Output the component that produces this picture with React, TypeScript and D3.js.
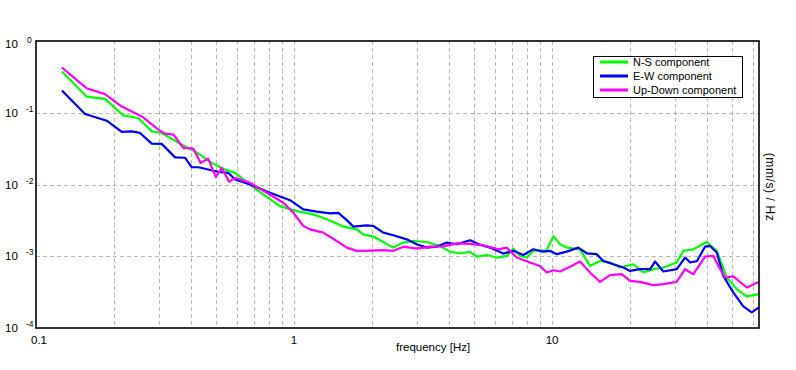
import React, { useRef, useEffect } from "react";
import * as d3 from "d3";

// spectra: [frequency Hz, amplitude (mm/s)/Hz]
const nsComponent: [number, number][] = [
  [0.126, 0.375], [0.157, 0.168], [0.185, 0.156], [0.218, 0.0917], [0.249, 0.0844],
  [0.281, 0.055], [0.307, 0.0523], [0.367, 0.0359], [0.413, 0.029], [0.48, 0.02],
  [0.54, 0.0162], [0.591, 0.01454], [0.675, 0.01], [0.76, 0.00726], [0.883, 0.005],
  [1.024, 0.00426], [1.188, 0.00383], [1.339, 0.00327], [1.553, 0.00259], [1.75, 0.00237],
  [1.856, 0.00202], [2.03, 0.00188], [2.218, 0.00158], [2.426, 0.00132], [2.653, 0.00155],
  [2.9, 0.00163], [3.268, 0.00158], [3.68, 0.00139], [4.025, 0.00115], [4.4, 0.0011],
  [4.81, 0.00115], [5.11, 0.00099], [5.58, 0.00104], [6.1, 0.000959], [6.675, 0.00101],
  [7.08, 0.00128], [7.52, 0.00101], [7.98, 0.000959], [8.46, 0.00119], [9.54, 0.00121],
  [10.12, 0.00191], [10.74, 0.00147], [11.4, 0.00132], [12.84, 0.00125], [14.03, 0.000733],
  [15.35, 0.000861], [16.78, 0.000818], [18.35, 0.000697], [20.66, 0.000774], [22.59, 0.000594],
  [24.7, 0.00066], [27.0, 0.000697], [30.43, 0.000818], [32.28, 0.00119], [35.3, 0.00125],
  [39.78, 0.00158], [43.5, 0.00119], [47.55, 0.000506], [52.0, 0.000348], [56.85, 0.000276],
  [63.4, 0.000297],
];

const ewComponent: [number, number][] = [
  [0.126, 0.204], [0.155, 0.0959], [0.188, 0.0774], [0.215, 0.054], [0.235, 0.055],
  [0.253, 0.0523], [0.281, 0.0371], [0.307, 0.0368], [0.346, 0.0239], [0.378, 0.0236],
  [0.401, 0.0174], [0.426, 0.0174], [0.465, 0.0162], [0.509, 0.015], [0.556, 0.01454],
  [0.591, 0.01173], [0.675, 0.01], [0.807, 0.00767], [0.965, 0.00605], [1.087, 0.0045],
  [1.225, 0.00418], [1.379, 0.00396], [1.485, 0.00402], [1.601, 0.00319], [1.698, 0.00259],
  [1.913, 0.0027], [2.03, 0.00264], [2.218, 0.00213], [2.426, 0.00196], [2.735, 0.00172],
  [2.99, 0.00147], [3.268, 0.00132], [3.573, 0.00136], [3.907, 0.00155], [4.272, 0.00147],
  [4.81, 0.00167], [5.26, 0.00145], [5.75, 0.00132], [6.47, 0.00109], [7.08, 0.00119],
  [7.74, 0.00104], [8.46, 0.00125], [9.25, 0.00116], [9.82, 0.00119], [10.43, 0.00107],
  [11.4, 0.00116], [12.64, 0.00132], [13.63, 0.0011], [14.9, 0.00107], [15.8, 0.000861],
  [17.29, 0.000774], [18.9, 0.000697], [20.06, 0.000625], [21.93, 0.00066], [23.99, 0.00066],
  [25.07, 0.000844], [27.0, 0.000613], [30.43, 0.00066], [32.78, 0.000959], [34.28, 0.000818],
  [36.4, 0.000853], [39.17, 0.00136], [40.97, 0.00139], [43.5, 0.00113], [46.1, 0.000533],
  [50.4, 0.000313], [55.1, 0.0002], [59.4, 0.000165], [63.4, 0.000194],
];

const udComponent: [number, number][] = [
  [0.126, 0.426], [0.157, 0.22], [0.185, 0.182], [0.215, 0.122], [0.257, 0.0889],
  [0.298, 0.0581], [0.316, 0.0511], [0.341, 0.0495], [0.372, 0.0323], [0.407, 0.0316],
  [0.435, 0.02], [0.465, 0.023], [0.498, 0.0126], [0.524, 0.0171], [0.56, 0.0109],
  [0.591, 0.0124], [0.675, 0.01056], [0.784, 0.00767], [0.909, 0.00557], [0.994, 0.00404],
  [1.087, 0.00264], [1.153, 0.00237], [1.299, 0.00213], [1.464, 0.00163], [1.601, 0.00132],
  [1.75, 0.00119], [1.97, 0.0012], [2.218, 0.00122], [2.426, 0.00119], [2.653, 0.00136],
  [2.99, 0.00128], [3.366, 0.00136], [3.791, 0.00137], [4.272, 0.00151], [4.81, 0.00149],
  [5.416, 0.00142], [6.19, 0.00125], [6.675, 0.00132], [7.3, 0.000959], [8.215, 0.000818],
  [8.985, 0.000733], [9.54, 0.000594], [10.12, 0.000639], [10.74, 0.000613], [11.74, 0.000715],
  [12.84, 0.000847], [14.03, 0.000594], [15.35, 0.00044], [16.78, 0.000545], [18.62, 0.000562],
  [20.06, 0.000454], [21.93, 0.00044], [24.7, 0.000396], [27.0, 0.000409], [30.43, 0.00044],
  [32.78, 0.00066], [35.3, 0.000562], [39.17, 0.00099], [42.2, 0.00101], [44.1, 0.000733],
  [46.8, 0.000506], [50.4, 0.000523], [56.85, 0.000367], [63.4, 0.00044],
];

const seriesNames = ["N-S component", "E-W component", "Up-Down component"];
const seriesColors = ["#00ff00", "#0000ff", "#ff00ff"];
const xTickLabels = [0.1, 1, 10];
const yExponents = [0, -1, -2, -3, -4];

const App: React.FC = () => {
  const svgRef = useRef<SVGSVGElement>(null);

  const width = 796;
  const height = 370;
  const plot = { left: 36, top: 41, right: 759, bottom: 328 };
  const font = "'Liberation Sans', Arial, sans-serif";

  useEffect(() => {
    const svg = d3.select(svgRef.current);
    svg.selectAll("*").remove();

    const x = d3.scaleLog().domain([0.1, 63.4]).range([plot.left, plot.right]);
    const y = d3.scaleLog().domain([1e-4, 1]).range([plot.bottom, plot.top]);

    svg.append("rect").attr("width", width).attr("height", height).attr("fill", "#fff");

    // vertical grid at every minor decade step
    const xGrid: number[] = [];
    [0.1, 1, 10].forEach((d) => {
      for (let k = 1; k <= 9; k++) {
        const v = d * k;
        if (v > 0.1 && v < 63.4) xGrid.push(v);
      }
    });
    svg
      .append("g")
      .selectAll("line")
      .data(xGrid)
      .join("line")
      .attr("x1", (d) => Math.round(x(d)) + 0.5)
      .attr("x2", (d) => Math.round(x(d)) + 0.5)
      .attr("y1", plot.top)
      .attr("y2", plot.bottom)
      .attr("stroke", "#b8b8b8")
      .attr("stroke-dasharray", "4,3");

    // horizontal grid at the decades
    svg
      .append("g")
      .selectAll("line")
      .data([1e-1, 1e-2, 1e-3])
      .join("line")
      .attr("x1", plot.left)
      .attr("x2", plot.right)
      .attr("y1", (d) => Math.round(y(d)) + 0.5)
      .attr("y2", (d) => Math.round(y(d)) + 0.5)
      .attr("stroke", "#b8b8b8")
      .attr("stroke-dasharray", "4,3");

    const line = d3
      .line<[number, number]>()
      .x((d) => x(d[0]))
      .y((d) => y(d[1]));

    [nsComponent, ewComponent, udComponent].forEach((data, i) => {
      svg
        .append("path")
        .datum(data)
        .attr("d", line)
        .attr("fill", "none")
        .attr("stroke", seriesColors[i])
        .attr("stroke-width", 2.2)
        .attr("stroke-linejoin", "round");
    });

    // frame
    svg
      .append("rect")
      .attr("x", plot.left)
      .attr("y", plot.top)
      .attr("width", plot.right - plot.left)
      .attr("height", plot.bottom - plot.top)
      .attr("fill", "none")
      .attr("stroke", "#000")
      .attr("stroke-width", 1.6);

    // x tick labels
    svg
      .append("g")
      .selectAll("text")
      .data(xTickLabels)
      .join("text")
      .attr("x", (d) => x(d) + (d === 0.1 ? 3 : 0))
      .attr("y", 344)
      .attr("text-anchor", "middle")
      .attr("font-family", font)
      .attr("font-size", 11.5)
      .attr("fill", "#000")
      .text((d) => String(d));

    // y tick labels as 10 with a raised exponent
    const yl = svg.append("g");
    yExponents.forEach((e) => {
      const cy = e === 0 ? y(1) + 3 : y(Math.pow(10, e));
      const t = yl
        .append("text")
        .attr("x", 5)
        .attr("y", cy + 4)
        .attr("font-family", font)
        .attr("font-size", 11.5)
        .attr("fill", "#000");
      t.append("tspan").text("10");
      t.append("tspan")
        .attr("x", e === 0 ? 27 : 26)
        .attr("y", cy - 1)
        .attr("font-size", 8.5)
        .text(e === 0 ? "0" : String(e));
    });

    // axis titles
    svg
      .append("text")
      .attr("x", 396)
      .attr("y", 351)
      .attr("font-family", font)
      .attr("font-size", 11.5)
      .attr("fill", "#000")
      .text("frequency [Hz]");

    svg
      .append("text")
      .attr("transform", `translate(766, 187) rotate(90)`)
      .attr("text-anchor", "middle")
      .attr("font-family", font)
      .attr("font-size", 12)
      .attr("letter-spacing", 0.6)
      .attr("fill", "#000")
      .text("(mm/s) / Hz");

    // legend
    const legend = svg.append("g").attr("transform", "translate(593, 56)");
    legend
      .append("rect")
      .attr("x", 0.5)
      .attr("y", 0.5)
      .attr("width", 149)
      .attr("height", 41)
      .attr("fill", "#fff")
      .attr("stroke", "#000");
    seriesNames.forEach((name, i) => {
      const ly = 6 + i * 14;
      legend
        .append("line")
        .attr("x1", 7)
        .attr("x2", 35)
        .attr("y1", ly)
        .attr("y2", ly)
        .attr("stroke", seriesColors[i])
        .attr("stroke-width", 3);
      legend
        .append("text")
        .attr("x", 40)
        .attr("y", ly + 4)
        .attr("font-family", font)
        .attr("font-size", 11)
        .attr("fill", "#000")
        .text(name);
    });
  }, []);

  return (
    <svg
      ref={svgRef}
      width={width}
      height={height}
      style={{ position: "absolute", left: 0, top: 0 }}
    />
  );
};

export default App;
